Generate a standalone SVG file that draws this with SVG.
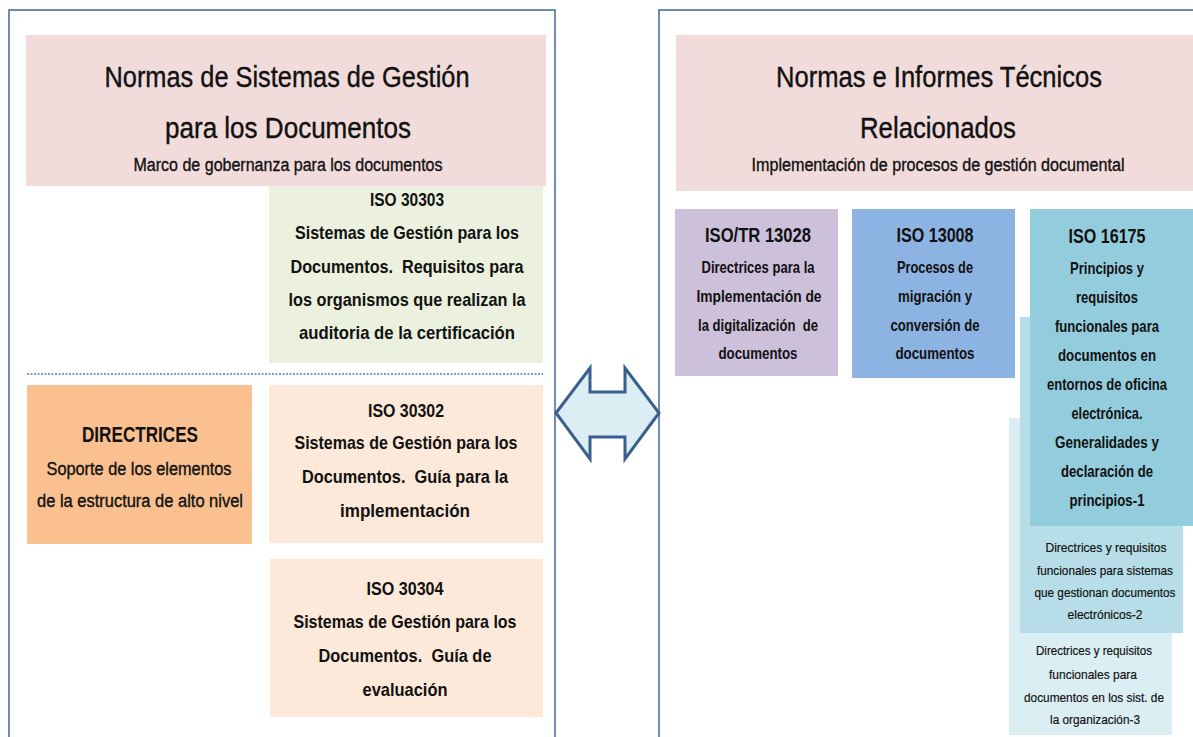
<svg xmlns="http://www.w3.org/2000/svg" width="1193" height="737" viewBox="0 0 1193 737">
<style>
text{font-family:"Liberation Sans Narrow","Liberation Sans",Arial,sans-serif;fill:#111;text-anchor:middle}
.t{font-size:30px;stroke:#111;stroke-width:0.4}
.s{font-size:18px;stroke:#111;stroke-width:0.35}
.b{font-size:19px;font-weight:bold}
.m{font-size:16.5px;font-weight:bold}
.h{font-size:20px;font-weight:bold}
.sm{font-size:13.5px;stroke:#111;stroke-width:0.2}
.panel{fill:none;stroke:#41679a;stroke-width:1.5}
</style>
<rect width="1193" height="737" fill="#fff"/>
<g id="panel-left"><path class="panel" d="M9,740 V10 H555 V740"/></g>
<g id="panel-right"><path class="panel" d="M659,740 V10 H1200"/></g>

<g id="header-left">
<rect x="26" y="35" width="520" height="151" fill="#f2dcdb"/>
<text class="t" x="287" y="87" textLength="365" lengthAdjust="spacingAndGlyphs">Normas de Sistemas de Gestión</text>
<text class="t" x="288" y="138" textLength="246" lengthAdjust="spacingAndGlyphs">para los Documentos</text>
<text class="s" x="288" y="171" textLength="309" lengthAdjust="spacingAndGlyphs">Marco de gobernanza para los documentos</text>
</g>

<g id="iso30303">
<rect x="269" y="186" width="274" height="177" fill="#ebf1de"/>
<text class="b" x="407" y="206" textLength="74" lengthAdjust="spacingAndGlyphs">ISO 30303</text>
<text class="b" x="407" y="239" textLength="224" lengthAdjust="spacingAndGlyphs">Sistemas de Gestión para los</text>
<text class="b" x="407" y="273" textLength="233" lengthAdjust="spacingAndGlyphs">Documentos.&#160; Requisitos para</text>
<text class="b" x="407" y="306" textLength="237" lengthAdjust="spacingAndGlyphs">los organismos que realizan la</text>
<text class="b" x="407" y="339" textLength="216" lengthAdjust="spacingAndGlyphs">auditoria de la certificación</text>
</g>

<g id="divider"><line x1="27" y1="374" x2="543" y2="374" stroke="#4f81bd" stroke-width="1.5" stroke-dasharray="2,1.5"/></g>

<g id="directrices">
<rect x="27" y="385" width="225" height="159" fill="#fac090"/>
<text class="h" x="140" y="442" textLength="116" lengthAdjust="spacingAndGlyphs" style="font-size:22px">DIRECTRICES</text>
<text class="s" x="139" y="475" textLength="185" lengthAdjust="spacingAndGlyphs">Soporte de los elementos</text>
<text class="s" x="140" y="507" textLength="206" lengthAdjust="spacingAndGlyphs">de la estructura de alto nivel</text>
</g>

<g id="iso30302">
<rect x="269" y="385" width="274" height="158" fill="#fde9d9"/>
<text class="b" x="406" y="417" textLength="76" lengthAdjust="spacingAndGlyphs">ISO 30302</text>
<text class="b" x="406" y="449" textLength="223" lengthAdjust="spacingAndGlyphs">Sistemas de Gestión para los</text>
<text class="b" x="405" y="483" textLength="206" lengthAdjust="spacingAndGlyphs">Documentos.&#160; Guía para la</text>
<text class="b" x="405" y="517" textLength="130" lengthAdjust="spacingAndGlyphs">implementación</text>
</g>

<g id="iso30304">
<rect x="270" y="559" width="273" height="158" fill="#fde9d9"/>
<text class="b" x="405" y="595" textLength="77" lengthAdjust="spacingAndGlyphs">ISO 30304</text>
<text class="b" x="405" y="628" textLength="223" lengthAdjust="spacingAndGlyphs">Sistemas de Gestión para los</text>
<text class="b" x="405" y="662" textLength="173" lengthAdjust="spacingAndGlyphs">Documentos.&#160; Guía de</text>
<text class="b" x="405" y="696" textLength="85" lengthAdjust="spacingAndGlyphs">evaluación</text>
</g>

<g id="header-right">
<rect x="676" y="35" width="517" height="156" fill="#f2dcdb"/>
<text class="t" x="939" y="87" textLength="326" lengthAdjust="spacingAndGlyphs">Normas e Informes Técnicos</text>
<text class="t" x="938" y="138" textLength="156" lengthAdjust="spacingAndGlyphs">Relacionados</text>
<text class="s" x="938" y="171" textLength="373" lengthAdjust="spacingAndGlyphs">Implementación de procesos de gestión documental</text>
</g>

<g id="isotr13028">
<rect x="675" y="209" width="163" height="167" fill="#ccc0da"/>
<text class="h" x="758" y="242" textLength="106" lengthAdjust="spacingAndGlyphs">ISO/TR 13028</text>
<text class="m" x="758" y="273" textLength="113" lengthAdjust="spacingAndGlyphs">Directrices para la</text>
<text class="m" x="759" y="302" textLength="125" lengthAdjust="spacingAndGlyphs">Implementación de</text>
<text class="m" x="758" y="331" textLength="120" lengthAdjust="spacingAndGlyphs">la digitalización&#160; de</text>
<text class="m" x="758" y="359" textLength="79" lengthAdjust="spacingAndGlyphs">documentos</text>
</g>

<g id="iso13008">
<rect x="852" y="209" width="163" height="169" fill="#8db3e2"/>
<text class="h" x="935" y="242" textLength="77" lengthAdjust="spacingAndGlyphs">ISO 13008</text>
<text class="m" x="935" y="273" textLength="76" lengthAdjust="spacingAndGlyphs">Procesos de</text>
<text class="m" x="935" y="302" textLength="74" lengthAdjust="spacingAndGlyphs">migración y</text>
<text class="m" x="935" y="331" textLength="89" lengthAdjust="spacingAndGlyphs">conversión de</text>
<text class="m" x="935" y="359" textLength="79" lengthAdjust="spacingAndGlyphs">documentos</text>
</g>

<g id="iso16175-3">
<rect x="1009" y="418" width="163" height="317" fill="#dbeef4"/>
<text class="sm" x="1094" y="655" textLength="116" lengthAdjust="spacingAndGlyphs">Directrices y requisitos</text>
<text class="sm" x="1093" y="679" textLength="88" lengthAdjust="spacingAndGlyphs">funcionales para</text>
<text class="sm" x="1094" y="702" textLength="140" lengthAdjust="spacingAndGlyphs">documentos en los sist. de</text>
<text class="sm" x="1095" y="724" textLength="90" lengthAdjust="spacingAndGlyphs">la organización-3</text>
</g>

<g id="iso16175-2">
<rect x="1020" y="317" width="163" height="316" fill="#b7dee8"/>
<text class="sm" x="1106" y="552" textLength="121" lengthAdjust="spacingAndGlyphs">Directrices y requisitos</text>
<text class="sm" x="1105" y="575" textLength="136" lengthAdjust="spacingAndGlyphs">funcionales para sistemas</text>
<text class="sm" x="1105" y="597" textLength="141" lengthAdjust="spacingAndGlyphs" style="font-size:13px">que gestionan documentos</text>
<text class="sm" x="1105" y="619" textLength="75" lengthAdjust="spacingAndGlyphs">electrónicos-2</text>
</g>

<g id="iso16175-1">
<rect x="1030" y="209" width="163" height="317" fill="#93cddd"/>
<text class="h" x="1107" y="243" textLength="77" lengthAdjust="spacingAndGlyphs">ISO 16175</text>
<text class="m" x="1107" y="274" textLength="74" lengthAdjust="spacingAndGlyphs">Principios y</text>
<text class="m" x="1107" y="303" textLength="62" lengthAdjust="spacingAndGlyphs">requisitos</text>
<text class="m" x="1107" y="332" textLength="104" lengthAdjust="spacingAndGlyphs">funcionales para</text>
<text class="m" x="1107" y="361" textLength="98" lengthAdjust="spacingAndGlyphs">documentos en</text>
<text class="m" x="1107" y="390" textLength="120" lengthAdjust="spacingAndGlyphs" style="font-size:16px">entornos de oficina</text>
<text class="m" x="1107" y="419" textLength="71" lengthAdjust="spacingAndGlyphs">electrónica.</text>
<text class="m" x="1107" y="448" textLength="104" lengthAdjust="spacingAndGlyphs">Generalidades y</text>
<text class="m" x="1107" y="477" textLength="92" lengthAdjust="spacingAndGlyphs">declaración de</text>
<text class="m" x="1107" y="506" textLength="75" lengthAdjust="spacingAndGlyphs">principios-1</text>
</g>

<g id="connectors">
<polygon points="556,413 590,368 590,392 625,392 625,368 659,413 625,459 625,437 590,437 590,459" fill="#dbeef4" stroke="#3a5f8f" stroke-width="3" stroke-linejoin="miter"/>
</g>
</svg>
